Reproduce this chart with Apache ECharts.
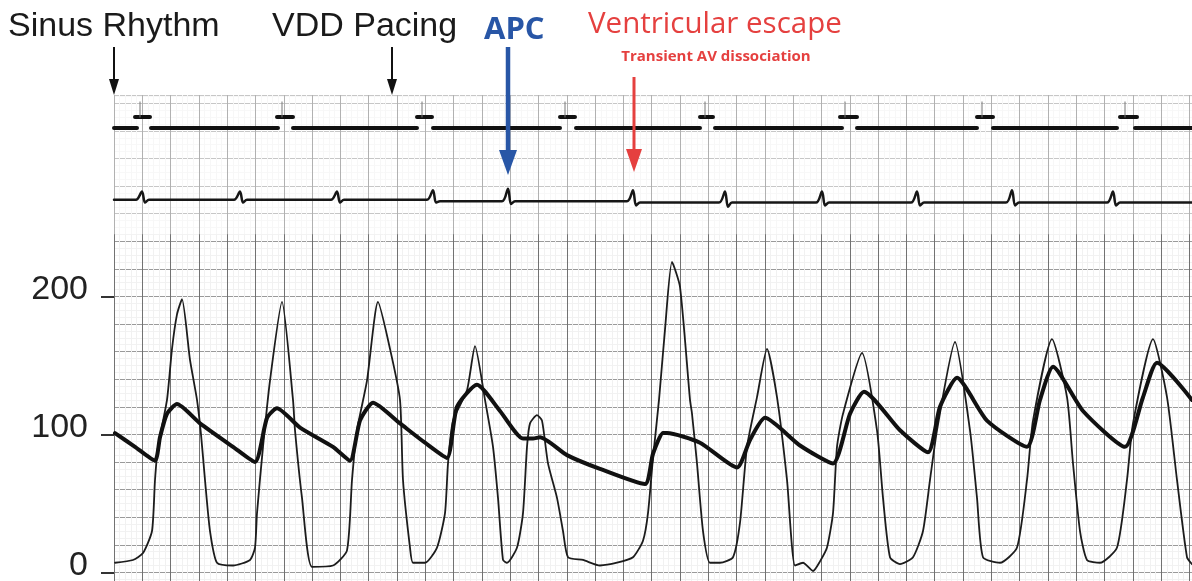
<!DOCTYPE html>
<html>
<head>
<meta charset="utf-8">
<script src="https://cdn.jsdelivr.net/npm/echarts@6/dist/echarts.min.js"></script>
<style>
  html, body { margin: 0; padding: 0; background: #fff; }
  #main { width: 1192px; height: 581px; }
</style>
</head>
<body>
<div id="main"></div>
<script>
// time runs along the paper (one big box = 28.3 units), pressure in mmHg
var lvPressure = [
  [1, 7], [19, 9], [29, 14], [38, 30], [41, 67], [44, 91], [53, 125], [58, 162], [63, 187], [68, 198],
  [76, 154], [83, 125], [87, 100], [91, 67], [96, 30], [103, 7], [119, 5], [136, 9], [141, 18], [143, 43],
  [149, 91], [156, 139], [168, 196], [179, 125], [181, 103], [188, 54], [198, 4], [219, 5], [233, 16], [238, 67],
  [243, 103], [253, 139], [264, 196], [276, 162], [286, 125], [289, 67], [296, 18], [299, 7], [311, 7], [323, 18],
  [331, 43], [334, 79], [339, 110], [353, 132], [361, 164], [371, 125], [379, 91], [384, 54], [389, 9], [393, 7],
  [403, 18], [409, 43], [413, 91], [416, 108], [423, 114], [428, 110], [434, 79], [443, 54], [449, 30], [454, 11],
  [469, 9], [486, 5], [503, 7], [519, 11], [529, 23], [534, 43], [539, 83], [545, 125], [551, 176], [558, 225],
  [566, 207], [576, 125], [578, 115], [583, 79], [589, 30], [596, 7], [606, 7], [619, 11], [626, 36], [633, 91],
  [643, 127], [653, 162], [663, 127], [673, 67], [681, 5], [689, 7], [699, 1], [706, 8], [713, 18], [719, 43],
  [723, 91], [729, 115], [748, 159], [763, 103], [769, 54], [776, 11], [786, 6], [799, 11], [809, 30], [816, 67],
  [823, 103], [841, 167], [856, 103], [863, 54], [869, 11], [886, 7], [903, 18], [913, 67], [919, 110], [938, 169],
  [953, 127], [959, 79], [966, 30], [973, 9], [986, 7], [1003, 18], [1013, 67], [1019, 108], [1039, 169], [1053, 127],
  [1063, 67], [1073, 11], [1078, 6]
];
var aoPressure = [
  [1, 101], [21, 91], [41, 81], [46, 98], [53, 115], [63, 122], [86, 108], [119, 91], [141, 80], [153, 112],
  [163, 119], [186, 105], [219, 91], [236, 81], [246, 110], [259, 123], [286, 108], [311, 94], [333, 83], [343, 120],
  [363, 136], [386, 117], [409, 97], [419, 97], [426, 98], [453, 85], [486, 75], [531, 64], [539, 86], [549, 101],
  [553, 101], [586, 94], [623, 76], [636, 96], [651, 112], [686, 92], [719, 79], [736, 115], [750, 131], [786, 103],
  [814, 87], [826, 120], [843, 141], [873, 110], [913, 91], [926, 125], [939, 149], [969, 117], [1011, 91], [1029, 127],
  [1043, 152], [1078, 125]
];
var ecg = [
  [0, 270], [22, 270], [28, 276], [31, 268], [35, 270],
  [120, 270], [126, 276], [129, 268], [133, 270],
  [217, 270], [223, 276], [226, 268], [230, 270],
  [313, 270], [319, 277], [322, 268], [326, 269],
  [388, 269], [394, 278], [397, 267], [401, 269],
  [513, 269], [519, 277], [522, 266], [526, 268],
  [605, 268], [611, 276], [614, 265], [618, 268],
  [702, 268], [708, 276], [711, 266], [715, 268],
  [797, 268], [803, 276], [806, 266], [810, 268],
  [892, 268], [898, 277], [901, 266], [905, 268],
  [993, 268], [999, 276], [1002, 266], [1006, 268],
  [1078, 268]
];
// marker channel: [start, end] of each segment
var markerBase = [[0, 23], [37, 164], [179, 303], [319, 446], [462, 586], [601, 728], [743, 863], [879, 1003], [1021, 1078]];
var markerRaised = [[21, 36], [163, 179], [303, 318], [446, 461], [586, 599], [726, 743], [863, 879], [1006, 1023]];
var markerSpikes = [26, 168, 308, 451, 591, 731, 868, 1011];
var markerLevels = { base: 322, raised: 330, spike: 341 };
var yLabels = [0, 100, 200];
var arrowTimes = { sinus: 0, vdd: 278, apc: 394, escape: 520 };

function segmentData(list, level) {
  var out = [];
  list.forEach(function (s) {
    out.push([s[0], level], [s[1], level], [s[1], '-']);
  });
  return out;
}
function spikeData(list) {
  var out = [];
  list.forEach(function (t) {
    out.push([t, markerLevels.raised], [t, markerLevels.spike], [t, '-']);
  });
  return out;
}

var chart = echarts.init(document.getElementById('main'));
var traceLine = function (name, data, width, color, smooth) {
  return {
    name: name, type: 'line', data: data, symbol: 'none', silent: true,
    smooth: smooth || false,
    lineStyle: { width: width, color: color, cap: 'round', join: 'round' },
    connectNulls: false, animation: false
  };
};

var markerSeries = traceLine('marker', segmentData(markerBase, markerLevels.base), 4, '#111');
// the upper channels sit on a paler part of the paper
markerSeries.markArea = {
  silent: true,
  itemStyle: { color: 'rgba(255,255,255,0.45)' },
  data: [[{ yAxis: 245 }, { yAxis: 346 }]]
};

var option = {
  backgroundColor: '#fff',
  animation: false,
  grid: { left: 114, width: 1078, top: 95, height: 505, outerBoundsMode: 'none', containLabel: false },
  xAxis: {
    type: 'value', min: 0, max: 1078, interval: 28.3,
    axisLine: { show: false }, axisTick: { show: false }, axisLabel: { show: false },
    splitLine: { show: true, lineStyle: { color: '#727272', width: 1 } },
    minorTick: { show: false, splitNumber: 5 },
    minorSplitLine: { show: true, lineStyle: { color: '#f1f1f1', width: 1 } }
  },
  yAxis: [
    {
      type: 'value', min: -20, max: 346, interval: 20,
      axisLine: { show: false }, axisTick: { show: false }, axisLabel: { show: false },
      splitLine: { show: true, lineStyle: { color: '#9a9a9a', width: 1 } },
      minorTick: { show: false, splitNumber: 4 },
      minorSplitLine: { show: true, lineStyle: { color: '#f2f2f2', width: 1 } }
    },
    {
      type: 'value', min: -20, max: 346, position: 'left',
      axisLine: { show: false },
      splitLine: { show: false },
      axisTick: { show: true, inside: false, length: 13, customValues: yLabels,
        lineStyle: { color: '#333', width: 2 } },
      axisLabel: {
        show: true, customValues: yLabels, margin: 26,
        fontFamily: 'Liberation Sans, Arial, sans-serif', fontSize: 34, color: '#222',
        verticalAlign: 'bottom', lineHeight: 14
      }
    }
  ],
  series: [
    markerSeries,
    traceLine('paced', segmentData(markerRaised, markerLevels.raised), 4, '#111'),
    traceLine('spike', spikeData(markerSpikes), 1, '#777'),
    traceLine('ECG', ecg, 2.5, '#161616', 0.3),
    traceLine('LV', lvPressure, 1.8, '#1c1c1c', 0.2),
    traceLine('Ao', aoPressure, 4, '#111', 0.2)
  ]
};
chart.setOption(option);

function arrow(t, y0, tip, shaft, headW, headL, color) {
  var x = chart.convertToPixel({ xAxisIndex: 0 }, t);
  return [
    { type: 'line', silent: true, z: 100,
      shape: { x1: x, y1: y0, x2: x, y2: tip - headL + 2 },
      style: { stroke: color, lineWidth: shaft } },
    { type: 'polygon', silent: true, z: 100,
      shape: { points: [[x - headW / 2, tip - headL], [x + headW / 2, tip - headL], [x, tip]] },
      style: { fill: color } }
  ];
}
function label(text, x, y, font, color, align) {
  return { type: 'text', silent: true, z: 100, x: x, y: y,
    style: { text: text, font: font, fill: color, align: align || 'left', verticalAlign: 'middle' } };
}

var blue = '#2856a6', red = '#e5403f';
var graphics = []
  .concat(arrow(arrowTimes.sinus, 47, 95, 2, 10, 16, '#111'))
  .concat(arrow(arrowTimes.vdd, 47, 95, 2, 10, 16, '#111'))
  .concat(arrow(arrowTimes.apc, 47, 175, 4.5, 18, 25, blue))
  .concat(arrow(arrowTimes.escape, 77, 172, 3, 16, 23, red));
graphics.push(
  label('Sinus Rhythm', 8, 27, '34px "Liberation Sans", Arial, sans-serif', '#1a1a1a'),
  label('VDD Pacing', 272, 27, '34px "Liberation Sans", Arial, sans-serif', '#1a1a1a'),
  label('APC', 484, 30, 'bold 31px "Open Sans", sans-serif', blue),
  label('Ventricular escape', 588, 25, '29.5px "Open Sans", sans-serif', red),
  label('Transient AV dissociation', 716, 57, 'bold 15px "Open Sans", sans-serif', red, 'center')
);
chart.setOption({ graphic: graphics });
</script>
</body>
</html>
